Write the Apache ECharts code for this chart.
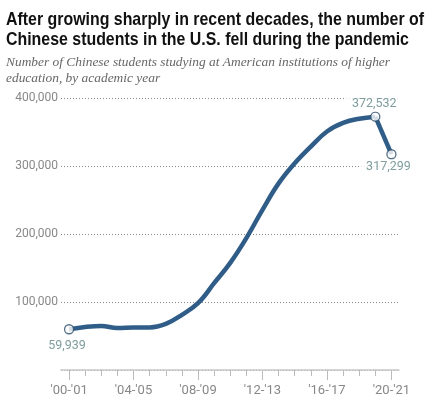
<!DOCTYPE html>
<html>
<head>
<meta charset="utf-8">
<script src="https://cdn.jsdelivr.net/npm/echarts@6/dist/echarts.min.js"></script>
<style>html,body{margin:0;padding:0;background:#fff;}#c{width:429px;height:400px;}</style>
</head>
<body>
<div id="c"></div>
<script>
const years = ["'00-'01","'01-'02","'02-'03","'03-'04","'04-'05","'05-'06","'06-'07","'07-'08","'08-'09","'09-'10","'10-'11","'11-'12","'12-'13","'13-'14","'14-'15","'15-'16","'16-'17","'17-'18","'18-'19","'19-'20","'20-'21"];
const students = [59939,63211,64757,61765,62523,62582,67723,81127,98235,127628,157558,194029,235597,274439,304040,328547,350755,363341,369548,372532,317299];
const labeledYears = [0,4,8,12,16,20];
const highlighted = [0,19,20];
const titleLines = ['After growing sharply in recent decades, the number of','Chinese students in the U.S. fell during the pandemic'];
const subtitleLines = ['Number of Chinese students studying at American institutions of higher','education, by academic year'];

const lineColor = '#2f5d88';
const fmt = v => v.toLocaleString('en-US');

// horizontal squeeze so the title fits the reference width
const cv = document.createElement('canvas').getContext('2d');
const titleFont = 'bold 18.5px "Liberation Sans"';
cv.font = titleFont;
const titleScale = 418 / cv.measureText(titleLines[0]).width;
const subFont = 'italic 13.5px "Liberation Serif"';
cv.font = subFont;
const subScale = 384 / cv.measureText(subtitleLines[0]).width;

const smoothPart = students.slice(0,20).map((v,i)=>[i,v]);
const lastPart = [[19,students[19]],[20,students[20]]];
const labelPos = {0:['bottom',[-2,-1]],19:['top',[-1,5]],20:['bottom',[-3,-5]]};
const dots = highlighted.map(i=>({
  value:[i,students[i]],
  label:{position:labelPos[i][0], offset:labelPos[i][1]}
}));

function textEl(str, x, y, font, color, scale){
  return {type:'text', x:x, y:y, scaleX:scale, originX:0, originY:0,
          style:{text:str, font:font, fill:color, verticalAlign:'top'}};
}

const chart = echarts.init(document.getElementById('c'));
chart.setOption({
  animation:false,
  graphic:[
    textEl(titleLines[0], 6, 10.5, titleFont, '#111', titleScale),
    textEl(titleLines[1], 6, 30, titleFont, '#111', titleScale),
    textEl(subtitleLines[0], 6, 55.5, subFont, '#666', subScale),
    textEl(subtitleLines[1], 6, 71.5, subFont, '#666', subScale)
  ],
  grid:{left:61,right:30,top:98,bottom:30},
  xAxis:[
    {type:'value',min:-0.5,max:20.47,position:'bottom',
     axisLine:{show:true,lineStyle:{color:'#c8c8c8',width:1.5}},
     axisTick:{show:true,customValues:years.map((y,i)=>i),length:6,lineStyle:{color:'#bbb',width:1}},
     axisLabel:{customValues:labeledYears,formatter:v=>years[Math.round(v)],margin:14,color:'#888',fontSize:13,fontFamily:'Roboto,sans-serif'},
     splitLine:{show:false}},
    {type:'value',min:-0.5,max:20.47,position:'bottom',
     axisLine:{show:false},
     axisTick:{show:true,customValues:labeledYears,length:10,lineStyle:{color:'#bbb',width:1}},
     axisLabel:{show:false},splitLine:{show:false}}
  ],
  yAxis:{type:'value',min:0,max:400000,interval:100000,
    axisLine:{show:false},axisTick:{show:false},
    axisLabel:{formatter:v=>v===0?'':fmt(v),margin:3,color:'#888',fontSize:12,fontFamily:'Roboto,sans-serif'},
    splitLine:{show:true,lineStyle:{type:[1,2],color:'#888',width:1}}},
  series:[
    {type:'line',data:smoothPart,smooth:0.4,symbol:'none',lineStyle:{color:lineColor,width:4.5},z:3},
    {type:'line',data:lastPart,smooth:false,symbol:'none',lineStyle:{color:lineColor,width:4.5},z:3},
    {type:'scatter',data:dots,symbol:'circle',symbolSize:9,
     itemStyle:{color:'#fff',borderColor:'#2b4b66',borderWidth:1.3},z:5,
     label:{show:true,formatter:p=>fmt(p.value[1]),color:'#5f8585',fontSize:12.5,fontFamily:'Roboto,sans-serif',
            backgroundColor:'#fff',padding:[1,7]}}
  ]
});
</script>
</body>
</html>
